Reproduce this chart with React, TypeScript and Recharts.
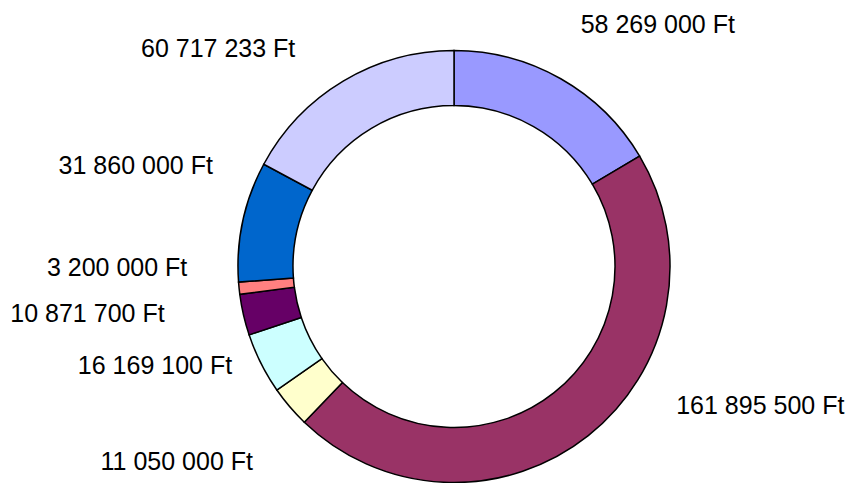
import React from 'react';
import { PieChart, Pie, Cell } from 'recharts';

// slices, clockwise from 12 o'clock
const categories = ['A', 'B', 'C', 'D', 'E', 'F', 'G', 'H'];
const amounts = [58269000, 161895500, 11050000, 16169100, 10871700, 3200000, 31860000, 60717233];
const COLORS = ['#9999FF', '#993366', '#FFFFCC', '#CCFFFF', '#660066', '#FF8080', '#0066CC', '#CCCCFF'];

// label offsets from the slice's outer mid point (Excel-like placement)
const LABEL_NUDGE: [number, number][] = [
  [97, -55], [172, -31], [-113, 54], [-106, 2], [-156, -2], [-122, -21], [-107, -56], [-125, -33],
];

const data = categories.map((name, i) => ({ name, value: amounts[i] }));

const formatFt = (v: number) => String(v).replace(/\B(?=(\d{3})+(?!\d))/g, ' ') + ' Ft';

const RAD = Math.PI / 180;

const renderLabel = (props: any) => {
  const { cx, cy, midAngle, outerRadius, index, value } = props;
  const ax = cx + outerRadius * Math.cos(-midAngle * RAD);
  const ay = cy + outerRadius * Math.sin(-midAngle * RAD);
  const [dx, dy] = LABEL_NUDGE[index] || [0, 0];
  return (
    <text
      x={ax + dx}
      y={ay + dy}
      textAnchor="middle"
      dominantBaseline="central"
      fill="#000"
      fontSize={25}
      fontFamily="'Liberation Sans', Arial, sans-serif"
    >
      {formatFt(value)}
    </text>
  );
};

const App: React.FC = () => {
  return (
    <div style={{ position: 'absolute', left: 0, top: 0, width: 850, height: 483, background: '#fff' }}>
      <PieChart width={850} height={483} margin={{ top: 0, right: 0, bottom: 0, left: 0 }}>
        <Pie
          data={data}
          dataKey="value"
          nameKey="name"
          cx={454}
          cy={266.5}
          innerRadius={161}
          outerRadius={216}
          startAngle={90}
          endAngle={-270}
          stroke="#000"
          strokeWidth={1.5}
          label={renderLabel}
          labelLine={false}
          isAnimationActive={false}
        >
          {data.map((entry, index) => <Cell key={`cell-${index}`} fill={COLORS[index % COLORS.length]} />)}
        </Pie>
      </PieChart>
    </div>
  );
};

export default App;
